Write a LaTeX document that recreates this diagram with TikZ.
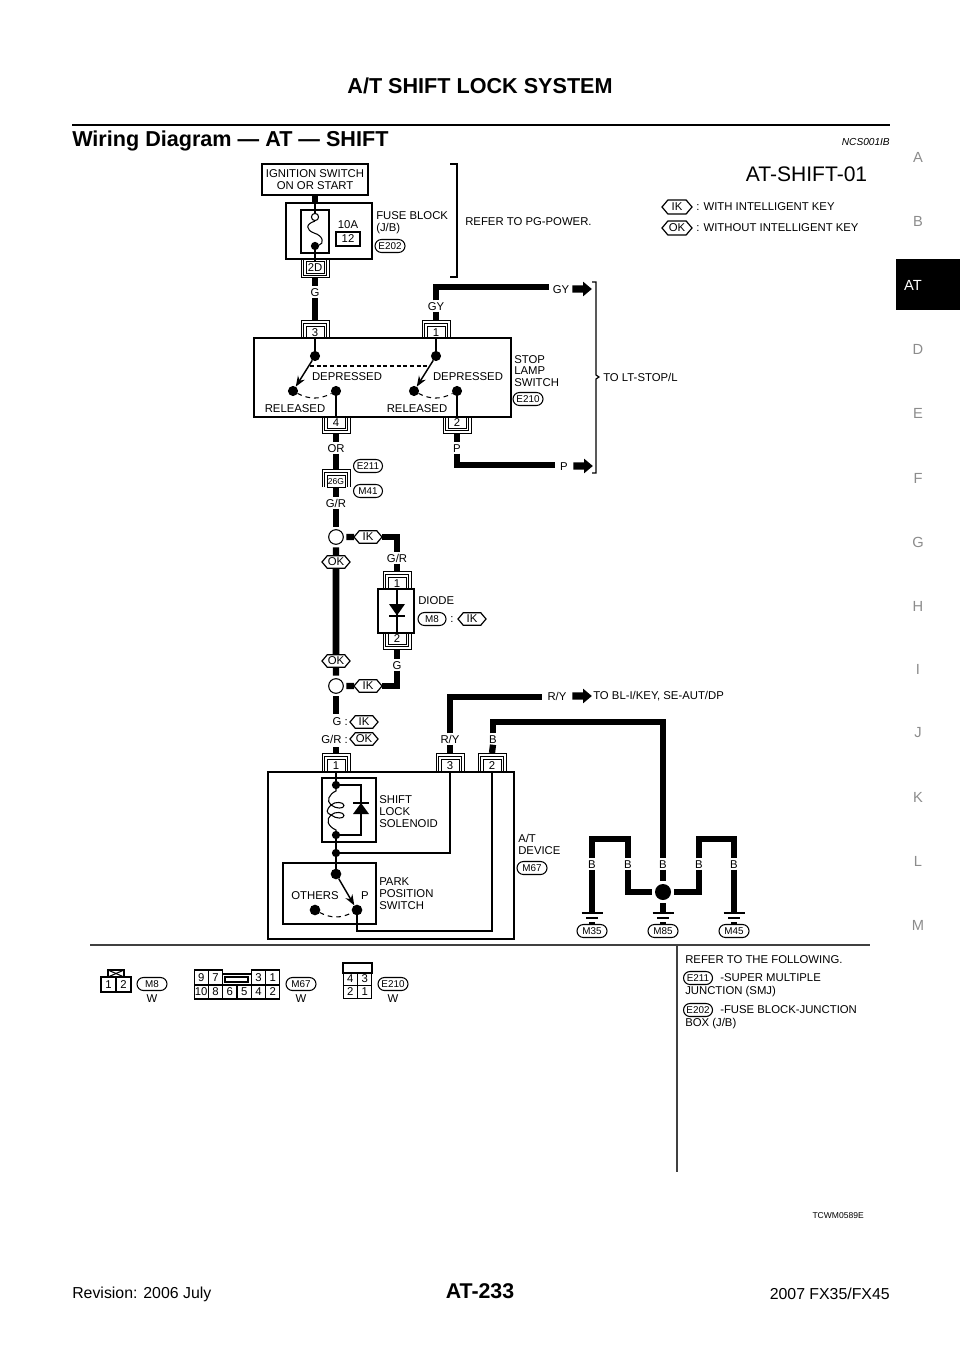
\documentclass[tikz,border=0pt]{standalone}
\usepackage{fontspec}
\setmainfont{Liberation Sans}
\usetikzlibrary{shapes.misc,shapes.symbols,shapes.arrows,arrows.meta}

\newcommand{\diagfont}{\fontsize{8.5}{8.8}\selectfont}
\newcommand{\ovalfont}{\fontsize{7.4}{8}\selectfont}

\tikzset{
    boxwh/.style 2 args={minimum width=#1*0.75pt, minimum height=#2*0.75pt},
    partbox/.style={draw, line width=0.8pt, inner sep=0pt, outer sep=0pt},
    wire/.style={line width=4.7pt},
    thinwire/.style={line width=0.8pt},
    pinline/.style={line width=0.6pt},
    pinbox/.style={draw, line width=0.7pt, inner sep=0pt, outer sep=0pt, font=\diagfont, boxwh={18}{11.5}},
    txt/.style={font=\diagfont, inner sep=0pt, anchor=west, align=left},
    wirelabel/.style={font=\diagfont, text height=6.2pt, text depth=0pt, inner xsep=0pt, inner ysep=1pt},
    oval/.style={draw, rounded rectangle, line width=0.8pt, inner sep=0pt, font=\ovalfont, boxwh={30}{13}},
    keytag/.style={draw, signal, signal to=east and west, signal pointer angle=100, line width=0.9pt,
        inner sep=0pt, outer sep=0pt, font=\diagfont, boxwh={28}{12.5}},
    dotnode/.style={circle, fill=black, inner sep=0pt, minimum size=6.2pt, outer sep=0pt},
    swdot/.style={dotnode, minimum size=7.6pt},
    bigdot/.style={circle, fill=black, inner sep=0pt, minimum size=12pt, outer sep=2.4pt},
    ringnode/.style={circle, draw, line width=0.8pt, inner sep=0pt, minimum size=11pt, outer sep=2.2pt},
    swarrow/.style={line width=1.1pt, -{Stealth[length=8pt,width=6pt]}},
    swdash/.style={thinwire, dash pattern=on 3.5pt off 3pt},
    blockarrow/.style={single arrow, fill=black, inner sep=2.5pt, single arrow head extend=2.8pt,
        single arrow tip angle=80, minimum height=14.5pt},
    cell/.style={draw, line width=0.8pt, inner sep=0pt, outer sep=0pt, font=\diagfont},
    tabletter/.style={font=\fontsize{11}{11}\selectfont, text=black!45, inner sep=0pt},
}

% pin on the upper edge of a part: name, x, edge y, text
\newcommand{\pintop}[4]{
    \node[pinbox, anchor=south] (#1) at (#2,#3) {#4};
    \draw[pinline] (#2-14,#3) -- (#2-14,#3-18) -- (#2+14,#3-18) -- (#2+14,#3);
    \draw[pinline] (#2-11.5,#3) -- (#2-11.5,#3-15) -- (#2+11.5,#3-15) -- (#2+11.5,#3);
    \coordinate (#1out) at (#2,#3-18);
}
% pin on the lower edge of a part
\newcommand{\pinbot}[4]{
    \node[pinbox, anchor=north] (#1) at (#2,#3) {#4};
    \draw[pinline] (#2-14,#3) -- (#2-14,#3+16) -- (#2+14,#3+16) -- (#2+14,#3);
    \draw[pinline] (#2-11.5,#3) -- (#2-11.5,#3+13.5) -- (#2+11.5,#3+13.5) -- (#2+11.5,#3);
    \coordinate (#1out) at (#2,#3+16);
}
% ground symbol: name, x, y
\newcommand{\groundsym}[3]{
    \coordinate (#1) at (#2,#3);
    \draw[line width=1pt] (#2-10.5,#3) -- (#2+10.5,#3);
    \draw[line width=1pt] (#2-6,#3+5) -- (#2+6,#3+5);
    \draw[line width=1pt] (#2-3,#3+10) -- (#2+3,#3+10);
}

\begin{document}
\begin{tikzpicture}[x=0.75pt, y=-0.75pt]
    \fill[white] (0,0) rectangle (960,1358);
    \useasboundingbox (0,0) rectangle (960,1358);

    % page head
    \node[font=\fontsize{16.2}{18}\selectfont\bfseries, inner sep=0pt] (pagetitle) at (480,86) {A/T SHIFT LOCK SYSTEM};
    \coordinate (ruleleft) at (72,125);
    \coordinate (ruleright) at (890,125);
    \draw[line width=2.2pt] (ruleleft) -- (ruleright);
    \node[font=\fontsize{16.2}{18}\selectfont\bfseries, inner sep=0pt, anchor=west] (heading) at (72,141) {Wiring Diagram — AT — SHIFT};
    \node[font=\fontsize{7.6}{8}\selectfont\itshape, inner sep=0pt, anchor=east] (docref) at (890,142) {NCS001IB};
    \node[font=\fontsize{15.8}{16}\selectfont, inner sep=0pt] (diagname) at (806.5,174) {AT-SHIFT-01};

    % side tabs
    \foreach \tabname/\taby in {A/157,B/221,D/349,E/413,F/478,G/542,H/606,I/669,J/733,K/797,L/861,M/925}
        \node[tabletter] (tab\tabname) at (918,\taby) {\tabname};
    \node[fill=black, inner sep=0pt, boxwh={64}{51}] (tabbox) at (928,284.5) {};
    \node[tabletter, text=white] (tabAT) at (913,285) {AT};

    % legend
    \node[keytag, boxwh={30}{14}] (legendIK) at (677,207) {IK};
    \node[txt] (legendIKtxt) at (696,207) {: WITH INTELLIGENT KEY};
    \node[keytag, boxwh={30}{14}] (legendOK) at (677,228) {OK};
    \node[txt] (legendOKtxt) at (696,228) {: WITHOUT INTELLIGENT KEY};

    % ignition and fuse
    \node[partbox, boxwh={106}{31}, font=\diagfont, align=center] (ignition) at (315,179.5) {IGNITION SWITCH\\ON OR START};
    \node[partbox, boxwh={86}{56}] (fuseblock) at (329,231) {};
    \node[partbox, boxwh={28}{43}] (fuseinner) at (315,231.5) {};
    \node[circle, draw, fill=white, line width=0.8pt, inner sep=0pt, minimum size=5.4pt] (fusetop) at (315,217) {};
    \node[dotnode] (fusebot) at (315,246) {};
    \draw[thinwire] (fusetop.south) .. controls (305,224) and (306,230) .. (314,233) .. controls (324,236) and (324,244) .. (fusebot);
    \draw[thinwire] (fuseblock.north -| fusetop) -- (fusetop.north);
    \node[font=\diagfont, inner sep=0pt] (fuseamp) at (348,225) {10A};
    \node[partbox, font=\diagfont, boxwh={24}{14}] (fusenum) at (348,239) {12};
    \node[txt] (fusetxt) at (376,223) {FUSE BLOCK\\(J/B)};
    \node[oval] (E202a) at (390,246) {E202};
    \draw[wire] (ignition.south) -- (ignition.south |- fuseblock.north);
    \pinbot{pin2D}{315}{261.5}{2D}
    \foreach \legx in {301,303.5,326.5,329}
        \draw[pinline] (\legx,259) -- (\legx,261.5);
    \draw[thinwire] (fusebot) -- (pin2D.north);
    \draw[line width=0.9pt] (450,164) -- (457,164) -- (457,277) -- (450,277);
    \node[txt] (refertxt) at (465,222) {REFER TO PG-POWER.};

    % stop lamp switch
    \node[partbox, boxwh={257}{79}] (stopsw) at (382.5,377.5) {};
    \node[wirelabel] (lblG) at (315,292) {G};
    \pintop{pin3}{315}{338}{3}
    \pintop{pin1}{436}{338}{1}
    \pinbot{pin4}{336}{417}{4}
    \pinbot{pin2}{457}{417}{2}
    \draw[wire] (pin2Dout) -- (lblG.north);
    \draw[wire] (lblG.south) -- (pin3out);
    \node[swdot] (swA) at (315,356) {};
    \node[swdot] (swArel) at (293,391) {};
    \node[swdot] (swAdep) at (336,391) {};
    \node[swdot] (swB) at (436,356) {};
    \node[swdot] (swBrel) at (414,391) {};
    \node[swdot] (swBdep) at (457,391) {};
    \draw[thinwire] (pin3.south) -- (swA);
    \draw[thinwire] (pin1.south) -- (swB);
    \draw[thinwire] (swAdep) -- (pin4.north);
    \draw[thinwire] (swBdep) -- (pin2.north);
    \draw[swarrow] (swA) -- (swArel);
    \draw[swarrow] (swB) -- (swBrel);
    \draw[swdash] (swArel) to[bend right=28] (swAdep);
    \draw[swdash] (swBrel) to[bend right=28] (swBdep);
    \coordinate (linkA) at (310,366);
    \coordinate (linkB) at (427,366);
    \draw[thinwire, dash pattern=on 3pt off 2pt] (linkA) -- (linkB);
    \node[font=\diagfont, inner sep=0pt] (depA) at (347,377) {DEPRESSED};
    \node[font=\diagfont, inner sep=0pt] (depB) at (468,377) {DEPRESSED};
    \node[font=\diagfont, inner sep=0pt] (relA) at (295,409) {RELEASED};
    \node[font=\diagfont, inner sep=0pt] (relB) at (417,409) {RELEASED};
    \node[txt] (stoptxt) at (514,371) {STOP\\LAMP\\SWITCH};
    \node[oval] (E210a) at (528,399) {E210};

    % wires to LT-STOP/L
    \node[wirelabel] (lblGY) at (436,306) {GY};
    \node[wirelabel] (lblGYend) at (561,289) {GY};
    \node[blockarrow] (arrowGY) at (580,289) {};
    \draw[wire] (lblGY.south) -- (pin1out);
    \coordinate (gyend) at (549,287);
    \draw[wire] (lblGY.north) |- (gyend);
    \node[wirelabel] (lblP) at (457,448) {P};
    \node[wirelabel] (lblPend) at (564,466) {P};
    \node[blockarrow] (arrowP) at (581,466) {};
    \draw[wire] (pin2out) -- (lblP.north);
    \coordinate (pend) at (555,465);
    \draw[wire] (lblP.south) |- (pend);
    \draw[line width=0.9pt] (592,282) -- (596,282) -- (596,375) -- (599,377) -- (596,379) -- (596,473) -- (592,473);
    \node[txt] (totxt) at (603,377) {TO LT-STOP/L};

    % joint connector
    \node[wirelabel] (lblOR) at (336,448) {OR};
    \draw[wire] (pin4out) -- (lblOR.north);
    \pintop{pin26G}{336}{487}{}
    \node[font=\fontsize{6.4}{7}\selectfont, inner sep=0pt] (txt26G) at (pin26G) {26G};
    \draw[wire] (lblOR.south) -- (pin26Gout);
    \node[oval, boxwh={29}{13}] (E211a) at (368,466) {E211};
    \node[oval, boxwh={29}{13}] (M41a) at (368,491) {M41};
    \node[wirelabel] (lblGR) at (336,503) {G/R};
    \draw[wire] (pin26G.south) -- (lblGR.north);

    % diode branch
    \node[ringnode] (ringA) at (336,537) {};
    \node[ringnode] (ringB) at (336,686) {};
    \node[keytag] (okA) at (336,562) {OK};
    \node[keytag] (okB) at (336,661) {OK};
    \node[keytag] (ikA) at (368,537) {IK};
    \node[keytag] (ikB) at (368,686) {IK};
    \draw[wire] (lblGR.south) -- (ringA);
    \draw[wire] (ringA) -- (okA);
    \draw[wire, line width=5pt] (okA) -- (okB);
    \draw[wire] (okB) -- (ringB);
    \draw[wire] (ringA) -- (ikA);
    \draw[wire] (ringB) -- (ikB);
    \node[wirelabel] (lblGRd) at (397,558) {G/R};
    \node[wirelabel] (lblGd) at (397,665) {G};
    \node[partbox, boxwh={36}{44}] (diodebox) at (396,611) {};
    \pintop{pinD1}{397}{589}{1}
    \pinbot{pinD2}{397}{633}{2}
    \draw[wire] (ikA.east) -| (lblGRd.north);
    \draw[wire] (lblGRd.south) -- (pinD1out);
    \draw[wire] (pinD2out) -- (lblGd.north);
    \draw[wire] (lblGd.south) |- (ikB.east);
    \draw[thinwire] (pinD1.south) -- (pinD2.north);
    \fill (389,604) -- (405,604) -- (397,615.5) -- cycle;
    \draw[thinwire] (389,616) -- (405,616);
    \node[txt] (diodetxt) at (418,601) {DIODE};
    \node[oval, boxwh={28}{13}] (M8a) at (432,619) {M8};
    \node[font=\diagfont, inner sep=0pt] (colonA) at (452,620) {:};
    \node[keytag] (ikC) at (472,619) {IK};

    % shift lock device
    \node[partbox, boxwh={246}{167}] (atdevice) at (391,855.5) {};
    \coordinate (gend) at (336,714);
    \coordinate (grstart) at (336,747);
    \draw[wire] (ringB) -- (gend);
    \node[font=\diagfont, inner sep=0pt, anchor=east] (lblGIK) at (348,722) {G :};
    \node[keytag] (ikD) at (364,722) {IK};
    \node[font=\diagfont, inner sep=0pt, anchor=east] (lblGROK) at (348,739) {G/R :};
    \node[keytag] (okD) at (364,739) {OK};
    \pintop{pinA1}{336}{771}{1}
    \pintop{pinA3}{450}{771}{3}
    \pintop{pinA2}{492}{771}{2}
    \draw[wire] (grstart) -- (pinA1out);
    \node[wirelabel] (lblRY) at (450,739) {R/Y};
    \node[wirelabel] (lblB) at (493,739) {B};
    \draw[wire] (lblRY.south) -- (pinA3out);
    \draw[wire] (lblB.south) -- (pinA2out);
    \coordinate (ryend) at (542,697);
    \draw[wire] (lblRY.north) |- (ryend);
    \node[wirelabel] (lblRYend) at (557,696) {R/Y};
    \node[blockarrow] (arrowRY) at (580,696) {};
    \node[txt] (rytxt) at (593,696) {TO BL-I/KEY, SE-AUT/DP};

    % solenoid
    \node[partbox, boxwh={54}{64}] (solenoid) at (349,810) {};
    \node[dotnode] (solA) at (336,785) {};
    \node[dotnode] (solB) at (336,835) {};
    \node[dotnode] (solC) at (336,853) {};
    \draw[thinwire] (pinA1.south) -- (solA);
    \draw[thinwire] (solB) -- (solC);
    \coordinate (solTR) at (361,785);
    \coordinate (solBR) at (361,835);
    \draw[thinwire] (solA) -- (solTR) -- (solBR) -- (solB);
    \draw[thinwire] (solA) -- (336,791) .. controls (329,794) and (326,801) .. (331,805)
        .. controls (336,809) and (344,809) .. (344,805.5) .. controls (344,802) and (335,801) .. (331,805)
        .. controls (326,810) and (326,813) .. (331,815)
        .. controls (336,819) and (344,819) .. (344,815.5) .. controls (344,812) and (335,811) .. (331,815)
        .. controls (326,819) and (327,826) .. (336,830) -- (solB);
    \fill (361,803) -- (369,814) -- (353,814) -- cycle;
    \draw[thinwire] (353,803) -- (369,803);
    \node[txt] (solenoidtxt) at (379,811.5) {SHIFT\\LOCK\\SOLENOID};
    \draw[thinwire] (solC) -| (pinA3.south);

    % park position switch
    \node[partbox, boxwh={93}{61}] (parksw) at (329.5,893.5) {};
    \node[swdot, minimum size=8pt] (parkA) at (336,874) {};
    \node[swdot, minimum size=8pt] (parkP) at (357,910) {};
    \node[swdot, minimum size=8pt] (parkO) at (315,910) {};
    \draw[thinwire] (solC) -- (parkA);
    \draw[swarrow] (parkA) -- (parkP);
    \draw[swdash] (parkO) to[bend right=28] (parkP);
    \coordinate (parkturn) at (357,931);
    \draw[thinwire] (parkP) -- (parkturn) -| (pinA2.south);
    \node[font=\diagfont, inner sep=0pt] (otherstxt) at (315,896) {OTHERS};
    \node[font=\diagfont, inner sep=0pt] (ptxt) at (365,896) {P};
    \node[txt] (parktxt) at (379,893.5) {PARK\\POSITION\\SWITCH};
    \node[txt] (devicetxt) at (518,844.5) {A/T\\DEVICE};
    \node[oval] (M67a) at (532,868) {M67};

    % grounds
    \coordinate (lineB) at (493,722);
    \coordinate (lineBturn) at (663,722);
    \node[wirelabel] (lblB3) at (663,864) {B};
    \draw[wire] (lblB.north) |- (lineBturn) -- (lblB3.north);
    \node[bigdot] (junction) at (663,892) {};
    \draw[wire] (lblB3.south) -- (junction);
    \node[wirelabel] (lblB1) at (592,864) {B};
    \node[wirelabel] (lblB2) at (628,864) {B};
    \node[wirelabel] (lblB4) at (699,864) {B};
    \node[wirelabel] (lblB5) at (734,864) {B};
    \coordinate (leftturn) at (592,839);
    \coordinate (rightturn) at (699,839);
    \draw[wire] (lblB1.north) -- (leftturn) -| (lblB2.north);
    \draw[wire] (lblB4.north) -- (rightturn) -| (lblB5.north);
    \draw[wire] (lblB2.south) |- (junction);
    \draw[wire] (lblB4.south) |- (junction);
    \groundsym{gnd1}{592}{913}
    \groundsym{gnd2}{663}{913}
    \groundsym{gnd3}{734}{913}
    \draw[wire] (lblB1.south) -- (gnd1);
    \draw[wire] (junction) -- (gnd2);
    \draw[wire] (lblB5.south) -- (gnd3);
    \node[oval] (M35a) at (592,931) {M35};
    \node[oval] (M85a) at (663,931) {M85};
    \node[oval] (M45a) at (734,931) {M45};

    % connector views
    \coordinate (viewleft) at (90,945);
    \coordinate (viewright) at (870,945);
    \coordinate (viewmid) at (677,945);
    \coordinate (viewend) at (677,1172);
    \draw[line width=1pt, black!75] (viewleft) -- (viewright);
    \draw[line width=1pt, black!75] (viewmid) -- (viewend);

    \node[cell, boxwh={16}{7}] (m8tab) at (116,973.5) {};
    \draw[thinwire] (m8tab.north west) -- (m8tab.south east);
    \draw[thinwire] (m8tab.south west) -- (m8tab.north east);
    \foreach \pinno/\cx in {1/108.5,2/123.5}
        \node[cell, boxwh={15}{15}] (m8p\pinno) at (\cx,984.5) {\pinno};
    \node[oval] (M8b) at (152,984) {M8};
    \node[font=\diagfont, inner sep=0pt] (wireM8) at (152,999) {W};

    \foreach \pinno/\cx in {9/201.2,7/215.5,3/258.5,1/272.8}
        \node[cell, boxwh={14.3}{15}] (m67p\pinno) at (\cx,977.5) {\pinno};
    \foreach \pinno/\cx in {10/201.2,8/215.5,6/229.8,5/244.2,4/258.5,2/272.8}
        \node[cell, boxwh={14.3}{14}] (m67p\pinno) at (\cx,992) {\pinno};
    \node[cell, boxwh={28.4}{11}] (m67gap) at (237,979.5) {};
    \node[cell, boxwh={23}{5}, line width=1.1pt] (m67slot) at (236.5,979.5) {};
    \node[oval] (M67b) at (301,984) {M67};
    \node[font=\diagfont, inner sep=0pt] (wireM67) at (301,999) {W};

    \node[cell, boxwh={29}{10}] (e210top) at (357.5,968) {};
    \foreach \pinno/\cx/\cy in {4/350.3/979,3/364.7/979,2/350.3/992,1/364.7/992}
        \node[cell, boxwh={14.5}{13}] (e210p\pinno) at (\cx,\cy) {\pinno};
    \node[oval] (E210b) at (393,984) {E210};
    \node[font=\diagfont, inner sep=0pt] (wireE210) at (393,999) {W};

    \node[txt] (followtxt) at (685,960) {REFER TO THE FOLLOWING.};
    \node[oval, boxwh={29}{13}] (E211b) at (698,978) {E211};
    \node[txt] (smjtxt) at (720,978) {-SUPER MULTIPLE};
    \node[txt] (smjtxtb) at (685,992) {JUNCTION (SMJ)};
    \node[oval, boxwh={29}{13}] (E202b) at (698,1010) {E202};
    \node[txt] (jbtxt) at (720,1010) {-FUSE BLOCK-JUNCTION};
    \node[txt] (jbtxtb) at (685,1024) {BOX (J/B)};

    % page foot
    \node[font=\fontsize{6.4}{7}\selectfont, inner sep=0pt, anchor=east] (figref) at (864,1216) {TCWM0589E};
    \node[font=\fontsize{11.9}{13}\selectfont, inner sep=0pt, anchor=west] (footleft) at (72,1294) {Revision: 2006 July};
    \node[font=\fontsize{16}{18}\selectfont\bfseries, inner sep=0pt] (footmid) at (480,1291) {AT-233};
    \node[font=\fontsize{11.9}{13}\selectfont, inner sep=0pt, anchor=east] (footright) at (890,1294) {2007 FX35/FX45};
\end{tikzpicture}
\end{document}
